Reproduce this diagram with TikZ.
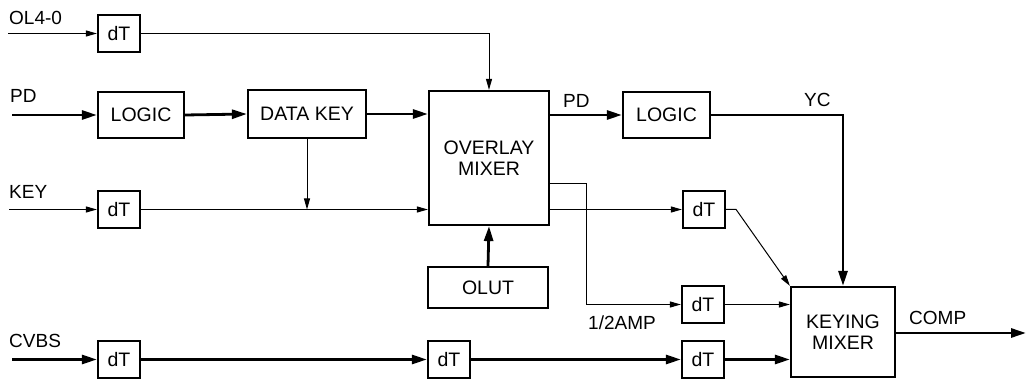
\documentclass[tikz,border=0pt]{standalone}
\usepackage{fontspec}
\setmainfont{Liberation Sans}
\usetikzlibrary{arrows.meta}

\begin{document}
\begin{tikzpicture}[x=1pt,y=-1pt,
  box/.style={draw,line width=2.2pt,inner sep=0pt,align=center,font=\fontsize{19.5}{21}\selectfont},
  dtbox/.style={box,minimum width=42,minimum height=37},
  lbl/.style={anchor=base west,inner sep=0pt,font=\fontsize{19}{21}\selectfont},
  thin/.style={line width=1pt,-{Triangle[length=11pt,width=6pt]}},
  thick/.style={line width=2.8pt,-{Triangle[length=15pt,width=9pt]}}]
\useasboundingbox (0,0) rectangle (1026,379);

% blocks
\node[dtbox] (dtol) at (119,33.5) {dT};
\node[box,minimum width=86,minimum height=46] (logicin) at (141,115) {LOGIC};
\node[box,minimum width=118,minimum height=48] (datakey) at (307,114) {DATA KEY};
\node[box,minimum width=120,minimum height=134] (overlay) at (489,158) {OVERLAY\\MIXER};
\node[box,minimum width=87,minimum height=46] (logicout) at (666.5,115) {LOGIC};
\node[dtbox] (dtkey) at (119,209.5) {dT};
\node[box,minimum width=120,minimum height=41] (olut) at (488,287.5) {OLUT};
\node[dtbox] (dtmix) at (704,209.5) {dT};
\node[dtbox] (dtamp) at (703,304.5) {dT};
\node[dtbox] (dtcvbs) at (119,359.5) {dT};
\node[dtbox] (dtmid) at (449,359.5) {dT};
\node[dtbox] (dtlast) at (703,359.5) {dT};
\node[box,minimum width=104,minimum height=90] (keying) at (843,332) {KEYING\\MIXER};

% inputs and outputs
\coordinate (olin) at (8,33.5);
\coordinate (pdin) at (12,115);
\coordinate (keyin) at (9,209.5);
\coordinate (cvbsin) at (12,359.5);
\coordinate (compout) at (1026,333);

% labels
\node[lbl] (lol) at (9,25) {OL4-0};
\node[lbl] (lpd) at (10,103) {PD};
\node[lbl] (lkey) at (9,199) {KEY};
\node[lbl] (lcvbs) at (9,348) {CVBS};
\node[lbl] (lpdout) at (563,108) {PD};
\node[lbl] (lyc) at (804,107) {YC};
\node[lbl] (lamp) at (588,330) {1/2AMP};
\node[lbl] (lcomp) at (909,325) {COMP};

% connectors
\draw[thin] (olin) -- (dtol.west);
\draw[thin] (dtol.east) -| (overlay.north);
\draw[thick] (pdin) -- (logicin.west);
\draw[thick] (logicin.east) -- (datakey.west);
\draw[thick] (datakey.east) -- (overlay.west |- datakey.east);
\draw[thin] (keyin) -- (dtkey.west);
\draw[thin] (dtkey.east) -- (overlay.west |- dtkey.east);
\draw[thin] (datakey.south) -- (datakey.south |- dtkey.east);
\draw[thick] (olut.north) -- (overlay.south);
\draw[thick] (overlay.east |- logicout.west) -- (logicout.west);
\draw[thick] (logicout.east) -| (keying.north);
\draw[thin] ([yshift=-26pt]overlay.east) -- ++(36,0) |- (dtamp.west);
\draw[thin] (overlay.east |- dtmix.west) -- (dtmix.west);
\draw[thin] (dtmix.east) -- ++(10,0) -- (keying.north west);
\draw[thin] (dtamp.east) -- (keying.west |- dtamp.east);
\draw[thick] (cvbsin) -- (dtcvbs.west);
\draw[thick] (dtcvbs.east) -- (dtmid.west);
\draw[thick] (dtmid.east) -- (dtlast.west);
\draw[thick] (dtlast.east) -- (keying.west |- dtlast.east);
\draw[thick] (keying.east |- compout) -- (compout);
\end{tikzpicture}
\end{document}
